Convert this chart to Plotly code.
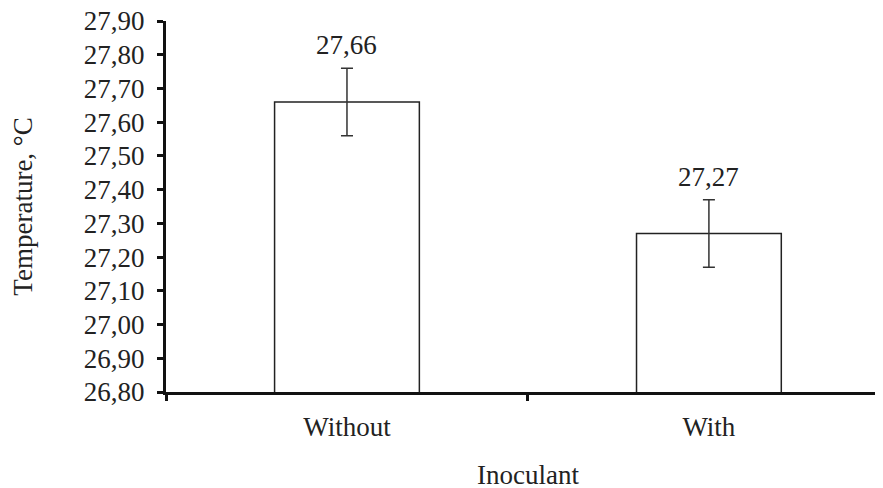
import plotly.graph_objects as go

categories = ["Without", "With"]
values = [27.66, 27.27]
errors = [0.10, 0.10]
value_labels = ["27,66", "27,27"]
y_ticks = [26.8, 26.9, 27.0, 27.1, 27.2, 27.3, 27.4, 27.5, 27.6, 27.7, 27.8, 27.9]

FONT = "Liberation Serif, Times New Roman, serif"
FS = 27

fig = go.Figure()
fig.add_trace(go.Bar(
    x=categories, y=values,
    marker=dict(color="white", line=dict(color="#222", width=1.5)),
    error_y=dict(type="data", array=errors, visible=True, color="#333", thickness=1.5, width=6),
    width=0.4,
    showlegend=False,
))

for c, v, e, t in zip(categories, values, errors, value_labels):
    fig.add_annotation(x=c, y=v + e, text=t, showarrow=False, yanchor="bottom",
                       yshift=6, font=dict(family=FONT, size=FS, color="#222"))

fig.add_annotation(x=0.5, xref="x", y=0, yref="paper", yanchor="middle", yshift=-83,
                   text="Inoculant", showarrow=False,
                   font=dict(family=FONT, size=FS, color="#222"))

fig.update_layout(
    width=883, height=488,
    margin=dict(l=158, r=8, t=13, b=104, autoexpand=False),
    plot_bgcolor="white", paper_bgcolor="white",
    separators=", ",
    font=dict(family=FONT, size=FS, color="#222"),
    bargap=0.6,
)
fig.update_xaxes(
    range=[-0.5, 1.481], showline=True, linecolor="#111", linewidth=3,
    ticks="outside", tickson="boundaries", ticklen=6, tickwidth=3, tickcolor="#111",
    showgrid=False, zeroline=False, ticklabelstandoff=9, automargin=False,
    ticklabeloverflow="allow",
)
fig.update_yaxes(
    range=[26.8, 27.9], tickvals=y_ticks, tickformat=".2f",
    showline=True, linecolor="#111", linewidth=3,
    ticks="outside", ticklen=6, tickwidth=3, tickcolor="#111",
    showgrid=False, zeroline=False, ticklabelstandoff=7, automargin=False,
    ticklabeloverflow="allow",
    title=dict(text="Temperature, °C", standoff=48, font=dict(family=FONT, size=FS)),
)

fig.write_html("out.html")
